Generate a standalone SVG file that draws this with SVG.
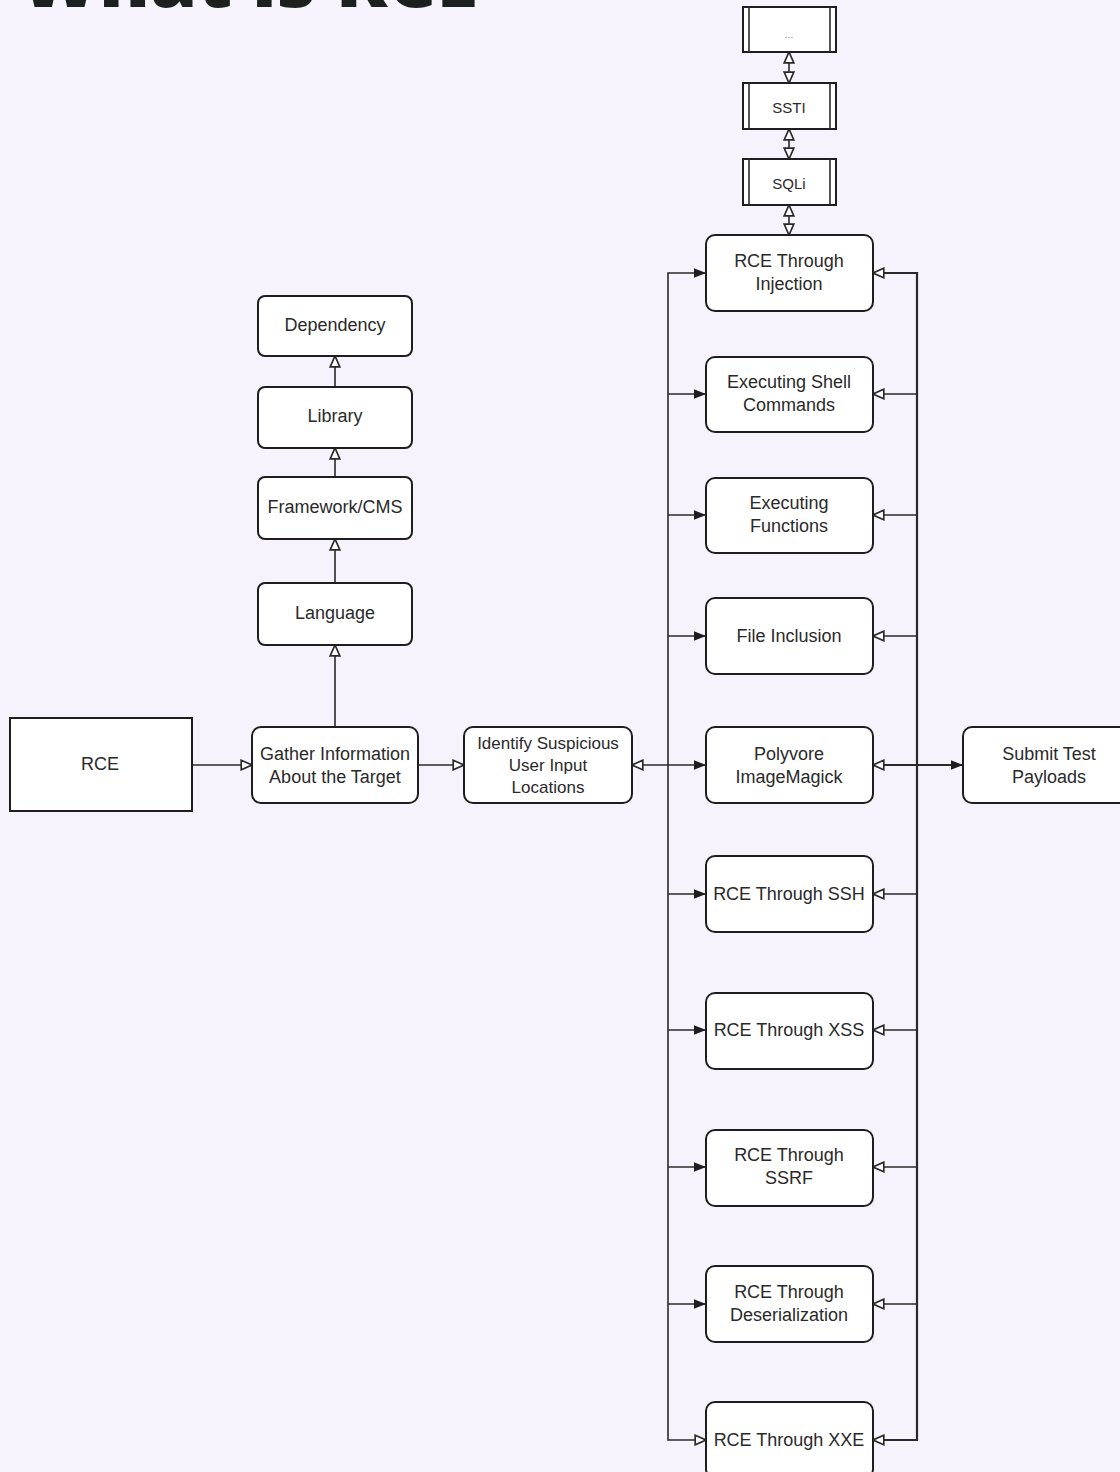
<svg xmlns="http://www.w3.org/2000/svg" width="1120" height="1472" viewBox="0 0 1120 1472">
<style>
.bg{fill:#f6f3fd}
.box{fill:#ffffff;stroke:#1e1e1e;stroke-width:2}
.t{font-family:"Liberation Sans",Arial,sans-serif;font-size:18px;fill:#2a2a2a;text-anchor:middle}
.ts{font-family:"Liberation Sans",Arial,sans-serif;font-size:15px;fill:#2a2a2a;text-anchor:middle}
.ln{fill:none;stroke:#2a2a2a;stroke-width:1.6}
.title{font-family:"Open Sans","DejaVu Sans",sans-serif;font-weight:800;font-size:76px;fill:#1c201e}
</style>
<defs>
<marker id="open" viewBox="0 0 10 10" refX="10" refY="5" markerWidth="12" markerHeight="12" markerUnits="userSpaceOnUse" orient="auto-start-reverse">
<path d="M1,1 L10,5 L1,9 z" fill="#ffffff" stroke="#2a2a2a" stroke-width="1.4"/>
</marker>
<marker id="fill" viewBox="0 0 10 10" refX="10" refY="5" markerWidth="12" markerHeight="12" markerUnits="userSpaceOnUse" orient="auto-start-reverse">
<path d="M0,1 L10,5 L0,9 z" fill="#1e1e1e"/>
</marker>
</defs>
<rect class="bg" x="0" y="0" width="1120" height="1472"/>
<text class="title" x="20" y="7">What is RCE</text>

<g id="connectors">
<line class="ln" x1="192" y1="765" x2="252" y2="765" marker-end="url(#open)"/>
<line class="ln" x1="418" y1="765" x2="464" y2="765" marker-end="url(#open)"/>
<line class="ln" x1="335" y1="727" x2="335" y2="645" marker-end="url(#open)"/>
<line class="ln" x1="335" y1="583" x2="335" y2="539" marker-end="url(#open)"/>
<line class="ln" x1="335" y1="477" x2="335" y2="448" marker-end="url(#open)"/>
<line class="ln" x1="335" y1="387" x2="335" y2="356" marker-end="url(#open)"/>
<line class="ln" x1="632" y1="765" x2="706" y2="765" marker-start="url(#open)" marker-end="url(#fill)"/>
<path class="ln" d="M706,273 H668 V1440 H706" marker-start="url(#fill)" marker-end="url(#open)"/>
<line class="ln" x1="668" y1="394" x2="706" y2="394" marker-end="url(#fill)"/>
<line class="ln" x1="668" y1="515" x2="706" y2="515" marker-end="url(#fill)"/>
<line class="ln" x1="668" y1="636" x2="706" y2="636" marker-end="url(#fill)"/>
<line class="ln" x1="668" y1="894" x2="706" y2="894" marker-end="url(#fill)"/>
<line class="ln" x1="668" y1="1030" x2="706" y2="1030" marker-end="url(#fill)"/>
<line class="ln" x1="668" y1="1167" x2="706" y2="1167" marker-end="url(#fill)"/>
<line class="ln" x1="668" y1="1304" x2="706" y2="1304" marker-end="url(#fill)"/>
<path class="ln" d="M873,273 H917 V1440 H873" marker-start="url(#open)" marker-end="url(#open)" style="stroke-width:2.2"/>
<line class="ln" x1="917" y1="394" x2="873" y2="394" marker-end="url(#open)"/>
<line class="ln" x1="917" y1="515" x2="873" y2="515" marker-end="url(#open)"/>
<line class="ln" x1="917" y1="636" x2="873" y2="636" marker-end="url(#open)"/>
<line class="ln" x1="917" y1="894" x2="873" y2="894" marker-end="url(#open)"/>
<line class="ln" x1="917" y1="1030" x2="873" y2="1030" marker-end="url(#open)"/>
<line class="ln" x1="917" y1="1167" x2="873" y2="1167" marker-end="url(#open)"/>
<line class="ln" x1="917" y1="1304" x2="873" y2="1304" marker-end="url(#open)"/>
<line class="ln" x1="873" y1="765" x2="963" y2="765" marker-start="url(#open)" marker-end="url(#fill)" style="stroke-width:2.2"/>
<line class="ln" x1="789" y1="205" x2="789" y2="235" marker-start="url(#open)" marker-end="url(#open)"/>
<line class="ln" x1="789" y1="129" x2="789" y2="159" marker-start="url(#open)" marker-end="url(#open)"/>
<line class="ln" x1="789" y1="52" x2="789" y2="83" marker-start="url(#open)" marker-end="url(#open)"/>
</g>

<g id="rce"><rect class="box" x="10" y="718" width="182" height="93"/><text class="t" x="100" y="770">RCE</text></g>
<g id="gather"><rect class="box" x="252" y="727" width="166" height="76" rx="9"/><text class="t" x="335" y="760">Gather Information</text><text class="t" x="335" y="783">About the Target</text></g>
<g id="identify"><rect class="box" x="464" y="727" width="168" height="76" rx="9"/><text class="t" x="548" y="749" style="font-size:17px">Identify Suspicious</text><text class="t" x="548" y="771" style="font-size:17px">User Input</text><text class="t" x="548" y="793" style="font-size:17px">Locations</text></g>
<g id="language"><rect class="box" x="258" y="583" width="154" height="62" rx="7"/><text class="t" x="335" y="619">Language</text></g>
<g id="framework"><rect class="box" x="258" y="477" width="154" height="62" rx="7"/><text class="t" x="335" y="513">Framework/CMS</text></g>
<g id="library"><rect class="box" x="258" y="387" width="154" height="61" rx="7"/><text class="t" x="335" y="422">Library</text></g>
<g id="dependency"><rect class="box" x="258" y="296" width="154" height="60" rx="7"/><text class="t" x="335" y="331">Dependency</text></g>

<g id="more"><rect class="box" x="743" y="7" width="93" height="45"/><line class="ln" x1="749" y1="7" x2="749" y2="52"/><line class="ln" x1="830" y1="7" x2="830" y2="52"/><text class="ts" x="789" y="38" style="font-size:10px;fill:#777">...</text></g>
<g id="ssti"><rect class="box" x="743" y="83" width="93" height="46"/><line class="ln" x1="749" y1="83" x2="749" y2="129"/><line class="ln" x1="830" y1="83" x2="830" y2="129"/><text class="ts" x="789" y="113">SSTI</text></g>
<g id="sqli"><rect class="box" x="743" y="159" width="93" height="46"/><line class="ln" x1="749" y1="159" x2="749" y2="205"/><line class="ln" x1="830" y1="159" x2="830" y2="205"/><text class="ts" x="789" y="189">SQLi</text></g>

<g id="injection"><rect class="box" x="706" y="235" width="167" height="76" rx="9"/><text class="t" x="789" y="267">RCE Through</text><text class="t" x="789" y="290">Injection</text></g>
<g id="shell"><rect class="box" x="706" y="357" width="167" height="75" rx="9"/><text class="t" x="789" y="388">Executing Shell</text><text class="t" x="789" y="411">Commands</text></g>
<g id="functions"><rect class="box" x="706" y="478" width="167" height="75" rx="9"/><text class="t" x="789" y="509">Executing</text><text class="t" x="789" y="532">Functions</text></g>
<g id="fileinclusion"><rect class="box" x="706" y="598" width="167" height="76" rx="9"/><text class="t" x="789" y="642">File Inclusion</text></g>
<g id="polyvore"><rect class="box" x="706" y="727" width="167" height="76" rx="9"/><text class="t" x="789" y="760">Polyvore</text><text class="t" x="789" y="783">ImageMagick</text></g>
<g id="ssh"><rect class="box" x="706" y="856" width="167" height="76" rx="9"/><text class="t" x="789" y="900">RCE Through SSH</text></g>
<g id="xss"><rect class="box" x="706" y="993" width="167" height="76" rx="9"/><text class="t" x="789" y="1036">RCE Through XSS</text></g>
<g id="ssrf"><rect class="box" x="706" y="1130" width="167" height="76" rx="9"/><text class="t" x="789" y="1161">RCE Through</text><text class="t" x="789" y="1184">SSRF</text></g>
<g id="deserialization"><rect class="box" x="706" y="1266" width="167" height="76" rx="9"/><text class="t" x="789" y="1298">RCE Through</text><text class="t" x="789" y="1321">Deserialization</text></g>
<g id="xxe"><rect class="box" x="706" y="1402" width="167" height="76" rx="9"/><text class="t" x="789" y="1446">RCE Through XXE</text></g>
<g id="submit"><rect class="box" x="963" y="727" width="170" height="76" rx="9"/><text class="t" x="1049" y="760">Submit Test</text><text class="t" x="1049" y="783">Payloads</text></g>
</svg>
